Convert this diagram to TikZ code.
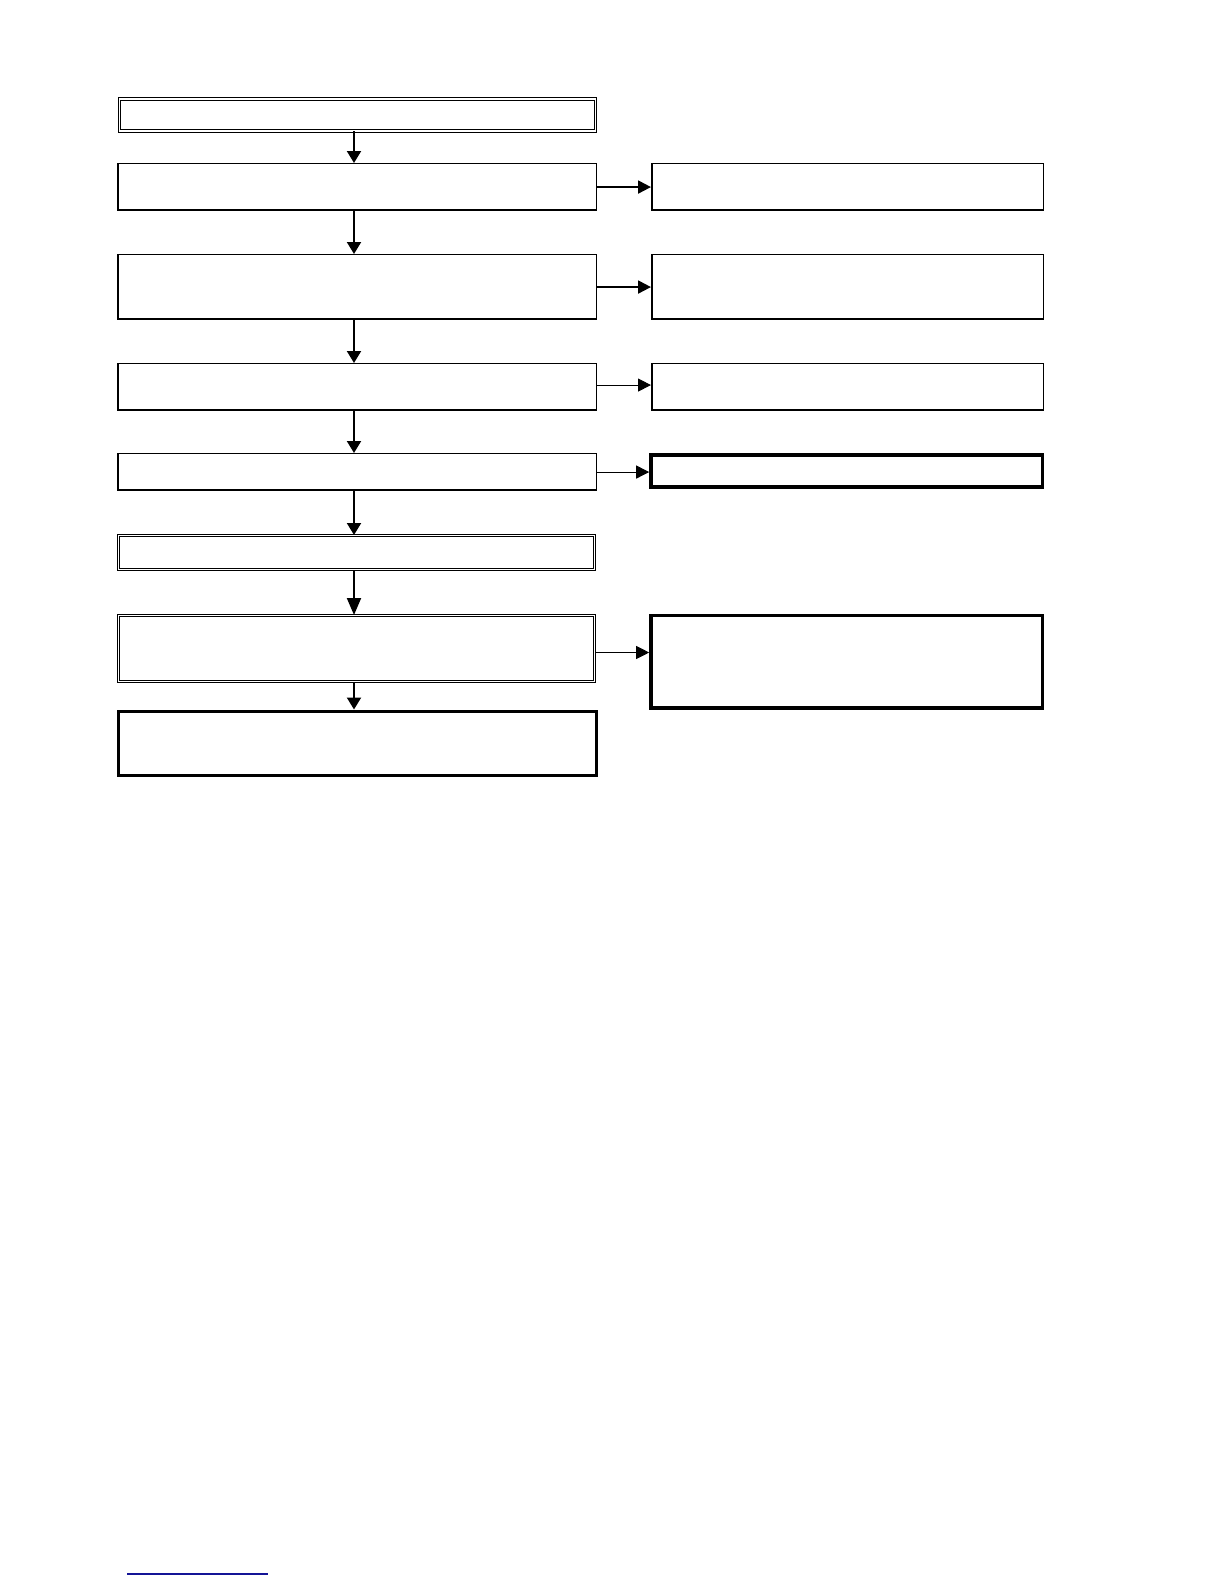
\documentclass[tikz,border=0pt]{standalone}
\usetikzlibrary{arrows.meta}
\definecolor{linkblue}{RGB}{20,20,150}
\begin{document}
\begin{tikzpicture}[x=1pt,y=-1pt,
  thinbox/.style={draw, line width=1.1pt, inner sep=0pt, anchor=north west,
    path picture={\draw[line width=2.4pt] (path picture bounding box.north west) -- (path picture bounding box.south west) -- (path picture bounding box.south east);}},
  doublebox/.style={draw, line width=1pt, double, double distance=1.8pt, inner sep=0pt, anchor=north west},
  thickbox/.style={draw, line width=3.4pt, inner sep=0pt, anchor=north west},
  varrow/.style={line width=2pt, -{Triangle[width=14pt,length=12pt]}},
  varrowlong/.style={line width=2pt, -{Triangle[width=14pt,length=17pt]}},
  harrowthick/.style={line width=2pt, -{Triangle[width=13pt,length=13pt]}},
  harrow/.style={line width=1pt, -{Triangle[width=13pt,length=13pt]}}]
\useasboundingbox (0,0) rectangle (1224,1584);
\coordinate (ax) at (354,0);
% left column
\node[doublebox, minimum width=476pt, minimum height=32pt] (b1) at (119,98.5) {};
\node[thinbox, minimum width=479pt, minimum height=47pt] (b2) at (117,163) {};
\node[thinbox, minimum width=479pt, minimum height=65pt] (b3) at (117,254) {};
\node[thinbox, minimum width=479pt, minimum height=47pt] (b4) at (117,363) {};
\node[thinbox, minimum width=479pt, minimum height=37pt] (b5) at (117,453) {};
\node[doublebox, minimum width=476pt, minimum height=34pt] (b6) at (118,535) {};
\node[doublebox, minimum width=476pt, minimum height=66pt] (b7) at (118,615) {};
\node[thickbox, minimum width=478pt, minimum height=64.5pt] (b8) at (116.5,709.5) {};
% right column
\node[thinbox, minimum width=392pt, minimum height=47pt] (r1) at (651,163) {};
\node[thinbox, minimum width=392pt, minimum height=65pt] (r2) at (651,254) {};
\node[thinbox, minimum width=392pt, minimum height=47pt] (r3) at (651,363) {};
\node[thickbox, minimum width=391.5pt, minimum height=32pt] (r4) at (649.2,453.2) {};
\node[thickbox, minimum width=391.5pt, minimum height=92.5pt] (r5) at (649.2,613.7) {};
% vertical connectors
\draw[varrow] (b1.south -| ax) -- (b2.north -| ax);
\draw[varrow] (b2.south -| ax) -- (b3.north -| ax);
\draw[varrow] (b3.south -| ax) -- (b4.north -| ax);
\draw[varrow] (b4.south -| ax) -- (b5.north -| ax);
\draw[varrow] (b5.south -| ax) -- (b6.north -| ax);
\draw[varrowlong] (b6.south -| ax) -- (b7.north -| ax);
\draw[varrow] (b7.south -| ax) -- (b8.north -| ax);
% horizontal connectors
\draw[harrowthick] (b2.east) -- (b2.east -| r1.west);
\draw[harrowthick] (b3.east) -- (b3.east -| r2.west);
\draw[harrow] ([yshift=2pt]b4.east) -- ([yshift=2pt]b4.east -| r3.west);
\draw[harrow] (b5.east) -- (b5.east -| r4.west);
\draw[harrow] ([yshift=-4pt]b7.east) -- ([yshift=-4pt]b7.east -| r5.west);
% blue rule at the foot of the page
\draw[line width=1.2pt, linkblue] (127,1574) -- (268,1574);
\end{tikzpicture}
\end{document}
